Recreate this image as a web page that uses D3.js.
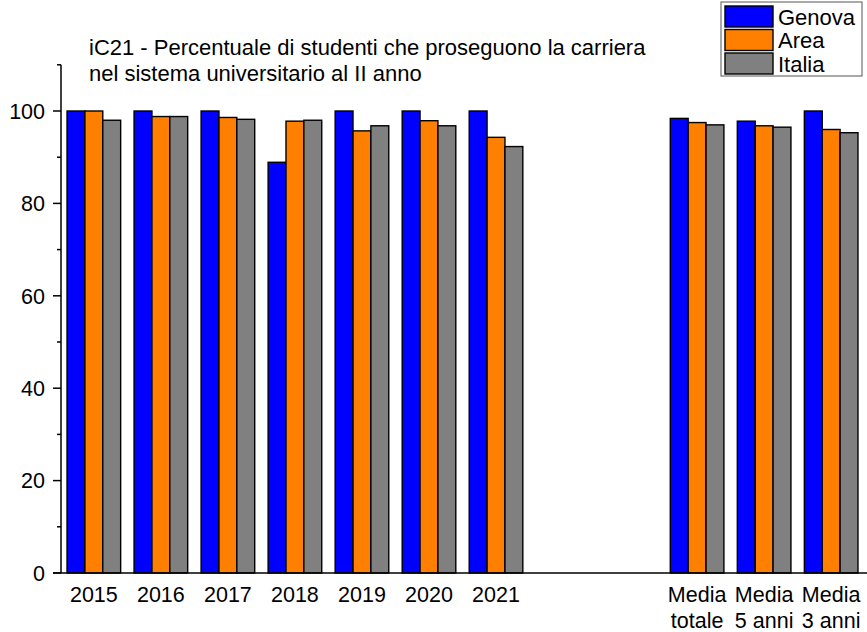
<!DOCTYPE html>
<html>
<head>
<meta charset="utf-8">
<script src="https://cdn.jsdelivr.net/npm/d3@7"></script>
<style>
  body { margin: 0; background: #fff; }
  text { font-family: "Liberation Sans", Arial, sans-serif; }
</style>
</head>
<body>
<div id="wrapper"></div>
<script>
// Dati
const categories = ["2015", "2016", "2017", "2018", "2019", "2020", "2021", "", " ", "Media totale", "Media 5 anni", "Media 3 anni"];
const series = ["Genova", "Area", "Italia"];
const genova = [100, 100, 100, 88.9, 100, 100, 100, null, null, 98.4, 97.8, 100];
const area   = [100, 98.8, 98.6, 97.8, 95.7, 97.9, 94.3, null, null, 97.5, 96.8, 96.0];
const italia = [98.0, 98.8, 98.2, 98.0, 96.8, 96.8, 92.3, null, null, 97.0, 96.5, 95.3];
const yTicks = [0, 20, 40, 60, 80, 100];
const colors = ["#0000ff", "#ff8000", "#808080"];

function draw() {
  const width = 867, height = 632;
  const fs = 21.5;
  const values = [genova, area, italia];

  const svg = d3.select("#wrapper").append("svg")
    .attr("width", width)
    .attr("height", height);

  // Scale
  const x = d3.scaleBand()
    .domain(categories)
    .range([61, 864])
    .paddingInner(0.2)
    .paddingOuter(0.09);
  const xSub = d3.scaleBand()
    .domain(series)
    .range([0, x.bandwidth()]);
  const y = d3.scaleLinear()
    .domain([0, 100])
    .range([573, 111]);

  // Barre
  series.forEach((s, i) => {
    svg.append("g")
      .selectAll("rect")
      .data(categories.map((c, j) => ({ c: c, v: values[i][j] })).filter(d => d.v != null))
      .join("rect")
        .attr("x", d => x(d.c) + xSub(s))
        .attr("y", d => y(d.v))
        .attr("width", xSub.bandwidth())
        .attr("height", d => y(0) - y(d.v))
        .attr("fill", colors[i])
        .attr("stroke", "#000")
        .attr("stroke-width", 1.4);
  });

  // Asse Y
  const yAxis = svg.append("g")
    .attr("transform", "translate(61,0)");
  yAxis.append("line")
    .attr("x1", 0).attr("x2", 0)
    .attr("y1", y(110)).attr("y2", y(0))
    .attr("stroke", "#000").attr("stroke-width", 1.5);
  yAxis.selectAll(".minor")
    .data(d3.range(10, 111, 20))
    .join("line")
      .attr("x1", -4).attr("x2", 0)
      .attr("y1", d => y(d)).attr("y2", d => y(d))
      .attr("stroke", "#000").attr("stroke-width", 1.5);
  yAxis.selectAll(".major")
    .data(yTicks)
    .join("line")
      .attr("x1", -8).attr("x2", 0)
      .attr("y1", d => y(d)).attr("y2", d => y(d))
      .attr("stroke", "#000").attr("stroke-width", 1.5);
  yAxis.selectAll("text")
    .data(yTicks)
    .join("text")
      .attr("x", -16)
      .attr("y", d => y(d))
      .attr("dy", "0.36em")
      .attr("text-anchor", "end")
      .attr("font-size", fs)
      .text(d => d);

  // Asse X
  svg.append("line")
    .attr("x1", 53).attr("x2", width)
    .attr("y1", y(0)).attr("y2", y(0))
    .attr("stroke", "#000").attr("stroke-width", 1.5);
  const xLabels = svg.append("g")
    .selectAll("text")
    .data(categories.filter(c => c.trim() !== ""))
    .join("text")
      .attr("x", d => x(d) + x.bandwidth() / 2)
      .attr("y", 602)
      .attr("text-anchor", "middle")
      .attr("font-size", fs);
  xLabels.each(function(d) {
    const parts = d.startsWith("Media") ? ["Media", d.slice(6)] : [d];
    d3.select(this).selectAll("tspan")
      .data(parts)
      .join("tspan")
        .attr("x", x(d) + x.bandwidth() / 2)
        .attr("dy", (p, k) => k === 0 ? 0 : 26)
        .text(p => p);
  });

  // Titolo
  svg.append("text")
    .attr("x", 89).attr("y", 55)
    .attr("font-size", 22)
    .text("iC21 - Percentuale di studenti che proseguono la carriera");
  svg.append("text")
    .attr("x", 89).attr("y", 81)
    .attr("font-size", 22)
    .text("nel sistema universitario al II anno");

  // Legenda
  const legend = svg.append("g").attr("transform", "translate(721,2)");
  legend.append("rect")
    .attr("width", 141).attr("height", 74)
    .attr("fill", "#fff").attr("stroke", "#555").attr("stroke-width", 1);
  series.forEach((s, i) => {
    legend.append("rect")
      .attr("x", 4).attr("y", 4 + i * 23.5)
      .attr("width", 48).attr("height", 21)
      .attr("fill", colors[i])
      .attr("stroke", "#000").attr("stroke-width", 1.4);
    legend.append("text")
      .attr("x", 57).attr("y", 15 + i * 23.5)
      .attr("dy", "0.36em")
      .attr("font-size", 22)
      .text(s);
  });
}
draw();
</script>
</body>
</html>
